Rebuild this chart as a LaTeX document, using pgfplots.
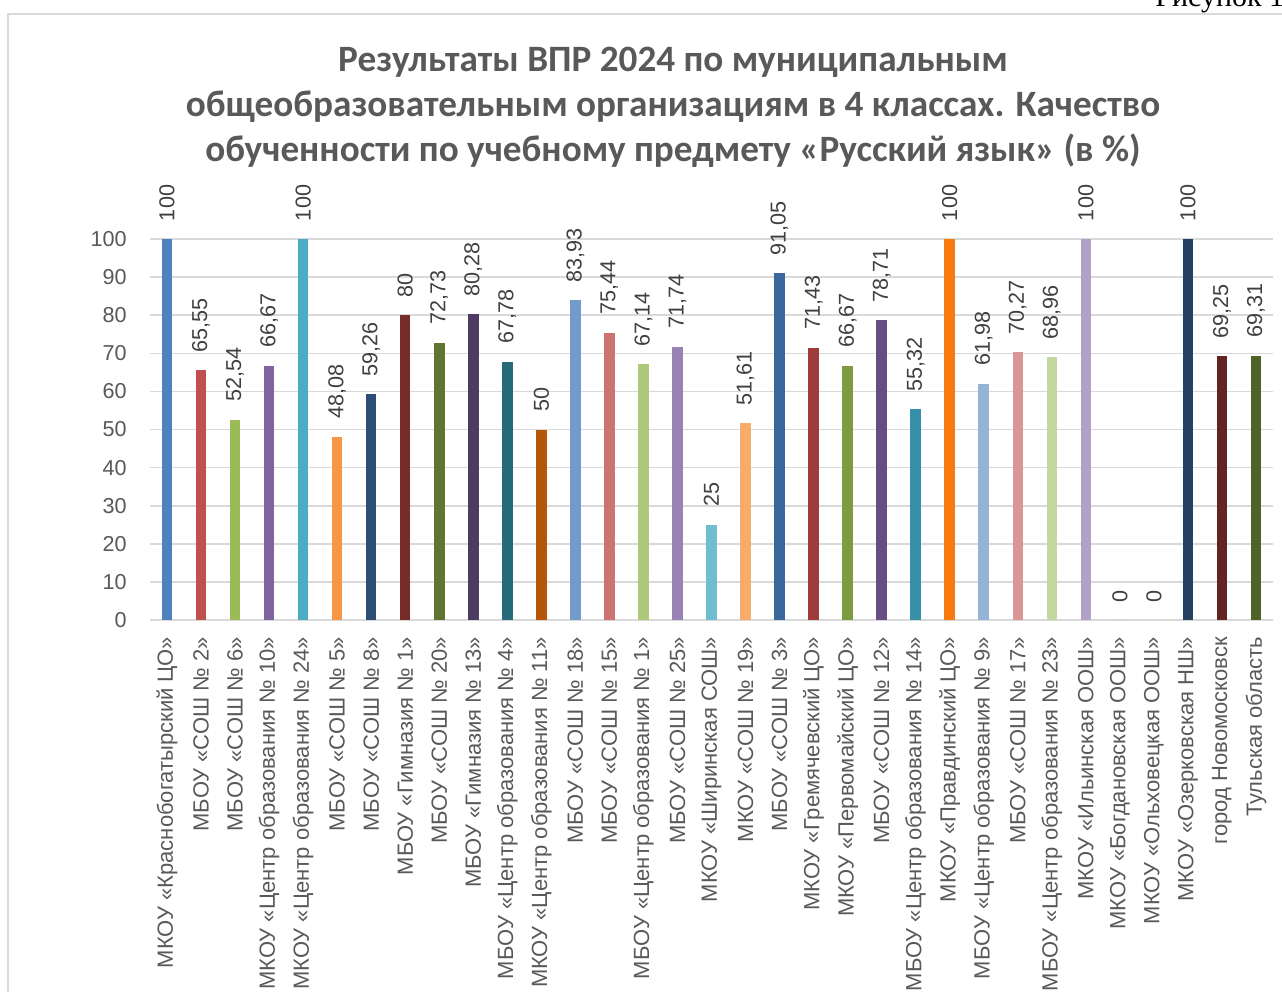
\documentclass[border=0pt]{standalone}
\usepackage{fontspec}
\setmainfont{Liberation Sans}
\newfontfamily\titlefont{Carlito}
\newfontfamily\capfont{Liberation Serif}
\usepackage{pgfplots}
\pgfplotsset{compat=1.18}
\definecolor{txt}{HTML}{595959}
\definecolor{dtxt}{HTML}{404040}
\definecolor{gridc}{HTML}{D9D9D9}
\definecolor{c1}{HTML}{4F81BD}
\definecolor{c2}{HTML}{C0504D}
\definecolor{c3}{HTML}{9BBB59}
\definecolor{c4}{HTML}{8064A2}
\definecolor{c5}{HTML}{4BACC6}
\definecolor{c6}{HTML}{F79646}
\definecolor{c7}{HTML}{2C4D75}
\definecolor{c8}{HTML}{772C2A}
\definecolor{c9}{HTML}{5F7530}
\definecolor{c10}{HTML}{4D3B62}
\definecolor{c11}{HTML}{276A7C}
\definecolor{c12}{HTML}{B65708}
\definecolor{c13}{HTML}{729ACA}
\definecolor{c14}{HTML}{CD7371}
\definecolor{c15}{HTML}{AFC97A}
\definecolor{c16}{HTML}{9983B5}
\definecolor{c17}{HTML}{6FBDD1}
\definecolor{c18}{HTML}{F9AB6B}
\definecolor{c19}{HTML}{3A679C}
\definecolor{c20}{HTML}{9F3B38}
\definecolor{c21}{HTML}{7E9C3F}
\definecolor{c22}{HTML}{664E85}
\definecolor{c23}{HTML}{3590A8}
\definecolor{c24}{HTML}{F57A10}
\definecolor{c25}{HTML}{95B3D7}
\definecolor{c26}{HTML}{DA9694}
\definecolor{c27}{HTML}{C5D7A0}
\definecolor{c28}{HTML}{B2A1C7}
\definecolor{c29}{HTML}{92CDDC}
\definecolor{c30}{HTML}{FAC090}
\definecolor{c31}{HTML}{243F60}
\definecolor{c32}{HTML}{632523}
\definecolor{c33}{HTML}{4F6228}
\begin{document}
\begin{tikzpicture}
\useasboundingbox (0,0) rectangle (641pt,496pt);
\clip (0,0) rectangle (641pt,496pt);
\fill[white] (0,0) rectangle (641pt,496pt);
\draw[gridc, line width=0.8pt] (4pt,-2pt) -- (4pt,489pt) -- (645pt,489pt);
\node[anchor=base west, inner sep=0pt, font=\capfont\fontsize{15}{18}\selectfont] at (577.5pt,492.5pt) {Рисунок 1};
\begin{scope}[font=\titlefont\bfseries\fontsize{18.6}{22}\selectfont, txt]
\node[anchor=base, inner sep=0pt] at (336.5pt,460pt) {Результаты ВПР 2024 по муниципальным};
\node[anchor=base, inner sep=0pt] at (336.5pt,437.5pt) {общеобразовательным организациям в 4 классах. Качество};
\node[anchor=base, inner sep=0pt] at (336.5pt,415pt) {обученности по учебному предмету «Русский язык» (в \%)};
\end{scope}
\begin{axis}[
  at={(75pt,186pt)}, anchor=south west,
  scale only axis, width=561.5pt, height=190.5pt,
  xmin=-0.5, xmax=32.5, ymin=0, ymax=100,
  ybar, bar width=5.25pt, bar shift=0pt,
  clip=false,
  axis line style={draw=none},
  major tick length=0pt,
  ymajorgrids, grid style={gridc, line width=0.8pt},
  ytick={0,10,...,100},
  xtick={0,...,32},
  xticklabels={
    {МКОУ «Краснобогатырский ЦО»},
    {МБОУ «СОШ № 2»},
    {МБОУ «СОШ № 6»},
    {МКОУ «Центр образования № 10»},
    {МКОУ «Центр образования № 24»},
    {МБОУ «СОШ № 5»},
    {МБОУ «СОШ № 8»},
    {МБОУ «Гимназия № 1»},
    {МБОУ «СОШ № 20»},
    {МБОУ «Гимназия № 13»},
    {МБОУ «Центр образования № 4»},
    {МКОУ «Центр образования № 11»},
    {МБОУ «СОШ № 18»},
    {МБОУ «СОШ № 15»},
    {МБОУ «Центр образования № 1»},
    {МБОУ «СОШ № 25»},
    {МКОУ «Ширинская СОШ»},
    {МКОУ «СОШ № 19»},
    {МБОУ «СОШ № 3»},
    {МКОУ «Гремячевский ЦО»},
    {МКОУ «Первомайский ЦО»},
    {МБОУ «СОШ № 12»},
    {МБОУ «Центр образования № 14»},
    {МКОУ «Правдинский ЦО»},
    {МБОУ «Центр образования № 9»},
    {МБОУ «СОШ № 17»},
    {МБОУ «Центр образования № 23»},
    {МКОУ «Ильинская ООШ»},
    {МКОУ «Богдановская ООШ»},
    {МКОУ «Ольховецкая ООШ»},
    {МКОУ «Озерковская НШ»},
    {город Новомосковск},
    {Тульская область}},
  xticklabel style={rotate=90, anchor=east, inner sep=0pt, outer xsep=8.5pt, font=\fontsize{11}{13}\selectfont, txt},
  yticklabel style={anchor=east, inner sep=0pt, xshift=-11.5pt, font=\fontsize{10.8}{13}\selectfont, txt},
  /pgf/number format/.cd, use comma, fixed, precision=2, assume math mode=true, /pgfplots/.cd,
  nodes near coords,
  every node near coord/.append style={rotate=90, anchor=west, inner sep=0pt, outer xsep=9pt, font=\fontsize{10.8}{13}\selectfont, dtxt},
]
\addplot[fill=c1, draw=none] coordinates {(0,100)};
\addplot[fill=c2, draw=none] coordinates {(1,65.55)};
\addplot[fill=c3, draw=none] coordinates {(2,52.54)};
\addplot[fill=c4, draw=none] coordinates {(3,66.67)};
\addplot[fill=c5, draw=none] coordinates {(4,100)};
\addplot[fill=c6, draw=none] coordinates {(5,48.08)};
\addplot[fill=c7, draw=none] coordinates {(6,59.26)};
\addplot[fill=c8, draw=none] coordinates {(7,80)};
\addplot[fill=c9, draw=none] coordinates {(8,72.73)};
\addplot[fill=c10, draw=none] coordinates {(9,80.28)};
\addplot[fill=c11, draw=none] coordinates {(10,67.78)};
\addplot[fill=c12, draw=none] coordinates {(11,50)};
\addplot[fill=c13, draw=none] coordinates {(12,83.93)};
\addplot[fill=c14, draw=none] coordinates {(13,75.44)};
\addplot[fill=c15, draw=none] coordinates {(14,67.14)};
\addplot[fill=c16, draw=none] coordinates {(15,71.74)};
\addplot[fill=c17, draw=none] coordinates {(16,25)};
\addplot[fill=c18, draw=none] coordinates {(17,51.61)};
\addplot[fill=c19, draw=none] coordinates {(18,91.05)};
\addplot[fill=c20, draw=none] coordinates {(19,71.43)};
\addplot[fill=c21, draw=none] coordinates {(20,66.67)};
\addplot[fill=c22, draw=none] coordinates {(21,78.71)};
\addplot[fill=c23, draw=none] coordinates {(22,55.32)};
\addplot[fill=c24, draw=none] coordinates {(23,100)};
\addplot[fill=c25, draw=none] coordinates {(24,61.98)};
\addplot[fill=c26, draw=none] coordinates {(25,70.27)};
\addplot[fill=c27, draw=none] coordinates {(26,68.96)};
\addplot[fill=c28, draw=none] coordinates {(27,100)};
\addplot[fill=c29, draw=none] coordinates {(28,0)};
\addplot[fill=c30, draw=none] coordinates {(29,0)};
\addplot[fill=c31, draw=none] coordinates {(30,100)};
\addplot[fill=c32, draw=none] coordinates {(31,69.25)};
\addplot[fill=c33, draw=none] coordinates {(32,69.31)};
\end{axis}
\end{tikzpicture}
\end{document}
